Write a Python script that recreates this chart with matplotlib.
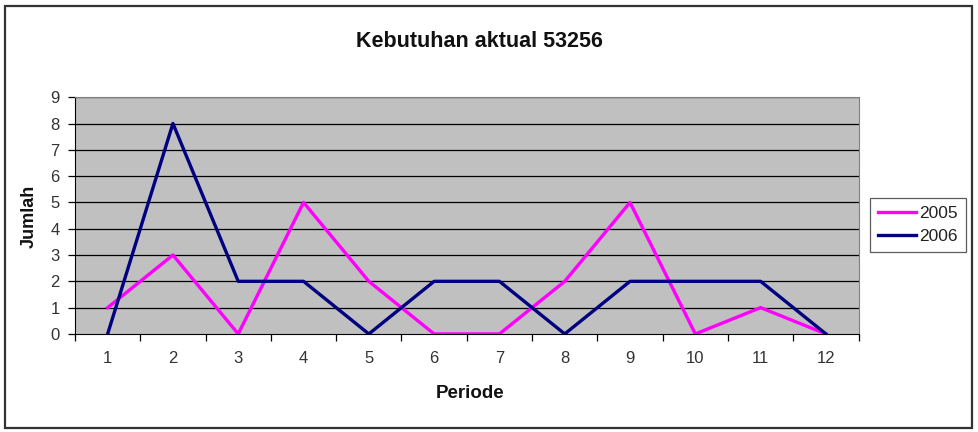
import numpy as np
import matplotlib
matplotlib.use('Agg')
import matplotlib.pyplot as plt
from matplotlib.patches import Rectangle

plt.rcParams['font.family'] = ['Liberation Sans', 'DejaVu Sans']

periode = [1, 2, 3, 4, 5, 6, 7, 8, 9, 10, 11, 12]
th2005 = [1, 3, 0, 5, 2, 0, 0, 2, 5, 0, 1, 0]
th2006 = [0, 8, 2, 2, 0, 2, 2, 0, 2, 2, 2, 0]

fig = plt.figure(figsize=(9.79, 4.32), dpi=100)
ax = fig.add_axes([0.0766, 0.227, 0.8004, 0.548])
ax.set_facecolor('#C0C0C0')

ax.plot(periode, th2005, color='#FF00FF', lw=2.4, label='2005', zorder=3)
ax.plot(periode, th2006, color='#000080', lw=2.4, label='2006', zorder=3)

ax.set_xlim(0.5, 12.5)
ax.set_ylim(0, 9)
ax.set_yticks(range(0, 10))
for y in range(1, 10):
    ax.axhline(y, color='black', lw=0.9, zorder=1)

# tick marks between categories, labels in the middle
ax.set_xticks(np.arange(0.5, 13, 1))
ax.set_xticklabels([])
ax.set_xticks(periode, minor=True)
ax.set_xticklabels([str(p) for p in periode], minor=True)
ax.tick_params(axis='x', which='major', length=5, width=0.9, color='black')
ax.tick_params(axis='x', which='minor', length=0, pad=12, labelsize=12, labelcolor='#333333')
ax.tick_params(axis='y', length=5, width=0.9, pad=6, labelsize=12, labelcolor='#333333')

for s in ['top', 'right']:
    ax.spines[s].set_color('#808080')
for s in ['left', 'bottom']:
    ax.spines[s].set_color('black')

fig.text(0.49, 0.903, 'Kebutuhan aktual 53256', ha='center', va='center', fontsize=15.5,
         fontweight='bold', color='#111111')
fig.text(0.48, 0.090, 'Periode', ha='center', va='center', fontsize=13.5, fontweight='bold',
         color='#111111')
fig.text(0.030, 0.50, 'Jumlah', ha='center', va='center', rotation=90, fontsize=13,
         fontweight='bold', color='#111111')

leg = ax.legend(loc='upper left', bbox_to_anchor=(0.8887, 0.5417), bbox_transform=fig.transFigure,
                frameon=True, fancybox=False, fontsize=12.5, handlelength=2.2, handletextpad=0.2,
                borderpad=0.45, labelspacing=0.45, borderaxespad=0)
leg.get_frame().set_edgecolor('#333333')
leg.get_frame().set_linewidth(0.9)
for t in leg.get_texts():
    t.set_color('#222222')

fig.patches.append(Rectangle((0.005, 0.01), 0.988, 0.977, transform=fig.transFigure,
                             fill=False, edgecolor='#333333', lw=1.6))

fig.savefig('out.png', dpi=100)
